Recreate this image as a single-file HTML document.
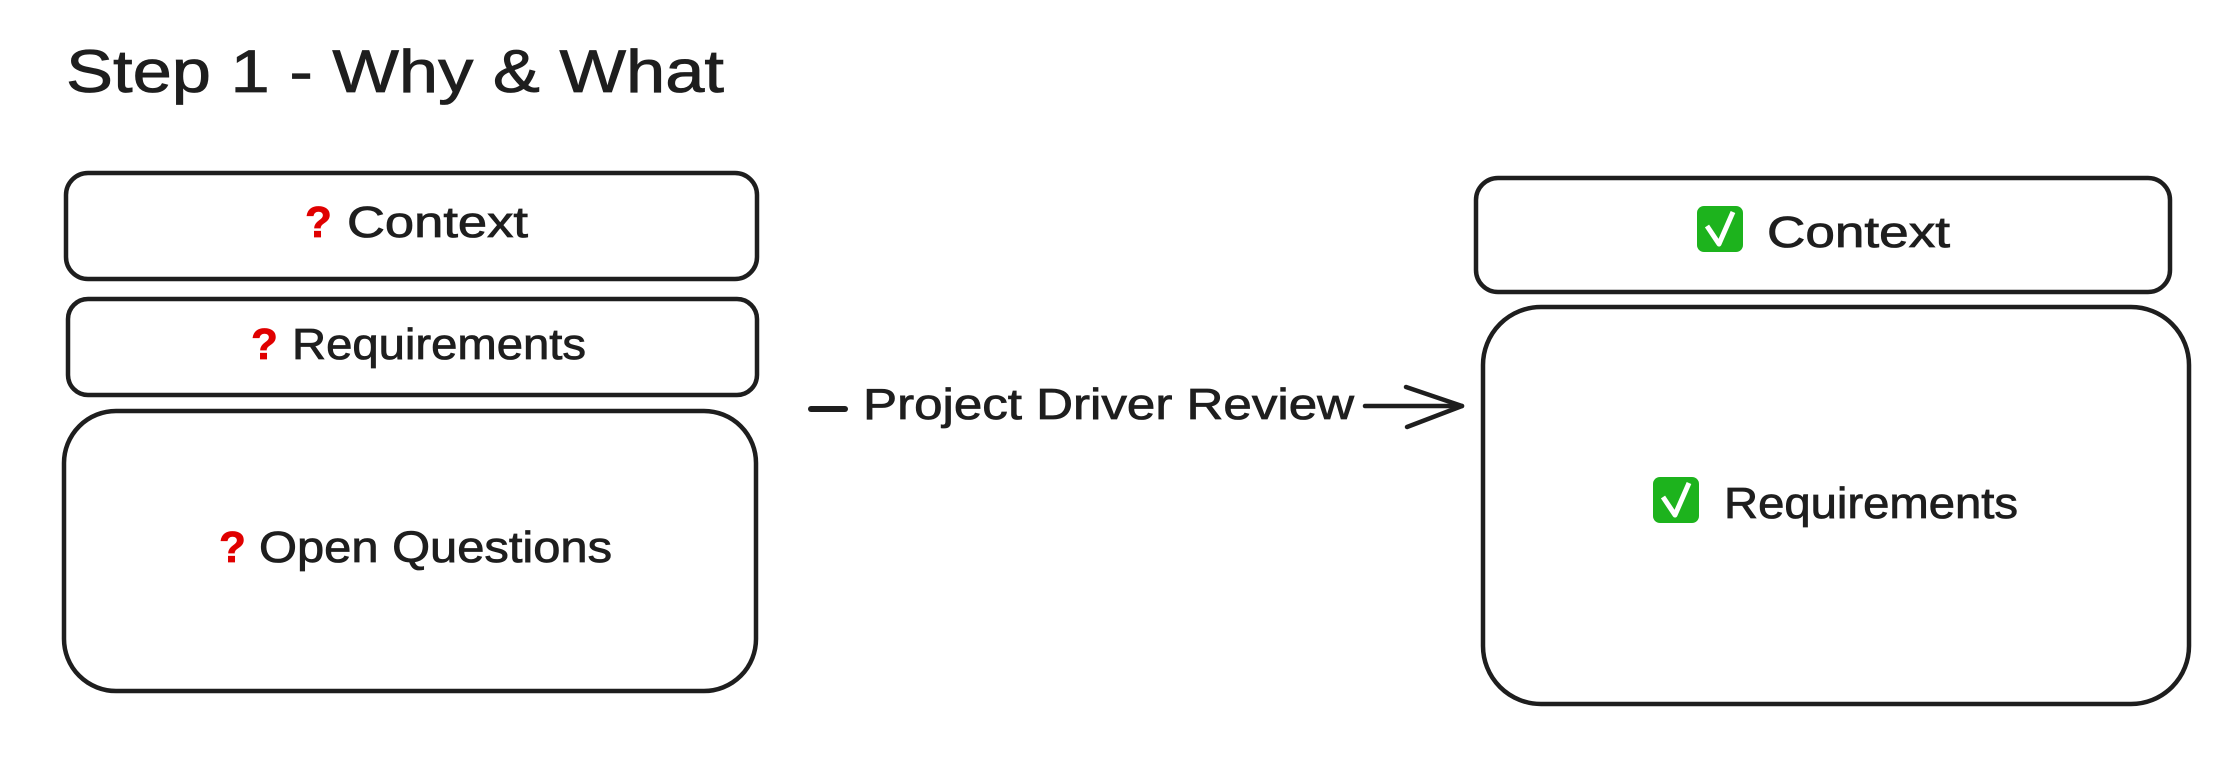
<!DOCTYPE html>
<html><head><meta charset="utf-8"><style>
html,body{margin:0;padding:0;background:#fff;}
svg{display:block;}
text{font-family:"Liberation Sans","DejaVu Sans",sans-serif;fill:#1e1e1e;stroke:#1e1e1e;stroke-width:0.8;}
</style></head><body>
<svg width="2236" height="766" viewBox="0 0 2236 766" xmlns="http://www.w3.org/2000/svg">
<g fill="none" stroke="#1e1e1e" stroke-width="4.5" stroke-linecap="round">
<rect x="66" y="173" width="691" height="106" rx="22"/>
<rect x="68" y="299" width="689" height="96" rx="20"/>
<rect x="64" y="411" width="692" height="280" rx="52"/>
<rect x="1476" y="178" width="694" height="114" rx="22"/>
<rect x="1483" y="307" width="706" height="397" rx="58"/>
<line x1="811" y1="409" x2="845" y2="409" stroke-width="6"/>
<line x1="1365" y1="406" x2="1462" y2="406"/>
<polyline points="1406,387 1462,406 1407,427" stroke-linejoin="round"/>
</g>
<text x="66" y="92" font-size="60" stroke-width="1.2" textLength="658" lengthAdjust="spacingAndGlyphs">Step 1 - Why &amp; What</text>
<g font-size="44">
<text x="305" y="237" font-weight="bold" style="fill:#e00000;stroke:#e00000">?</text>
<text x="347" y="237" textLength="181" lengthAdjust="spacingAndGlyphs">Context</text>
<text x="251" y="359" font-weight="bold" style="fill:#e00000;stroke:#e00000">?</text>
<text x="292" y="359" textLength="294" lengthAdjust="spacingAndGlyphs">Requirements</text>
<text x="219" y="562" font-weight="bold" style="fill:#e00000;stroke:#e00000">?</text>
<text x="259" y="562" textLength="353" lengthAdjust="spacingAndGlyphs">Open Questions</text>
<text x="863" y="419" textLength="491" lengthAdjust="spacingAndGlyphs">Project Driver Review</text>
<text x="1767" y="247" textLength="183" lengthAdjust="spacingAndGlyphs">Context</text>
<text x="1724" y="518" textLength="294" lengthAdjust="spacingAndGlyphs">Requirements</text>
</g>
<g>
<rect x="1697" y="206" width="46" height="46" rx="7" fill="#1db31d"/>
<polyline points="1707,226 1719,244 1733,212" fill="none" stroke="#fff" stroke-width="5" stroke-linejoin="round"/>
<rect x="1653" y="477" width="46" height="46" rx="7" fill="#1db31d"/>
<polyline points="1663,497 1675,515 1689,483" fill="none" stroke="#fff" stroke-width="5" stroke-linejoin="round"/>
</g>
</svg>
</body></html>
